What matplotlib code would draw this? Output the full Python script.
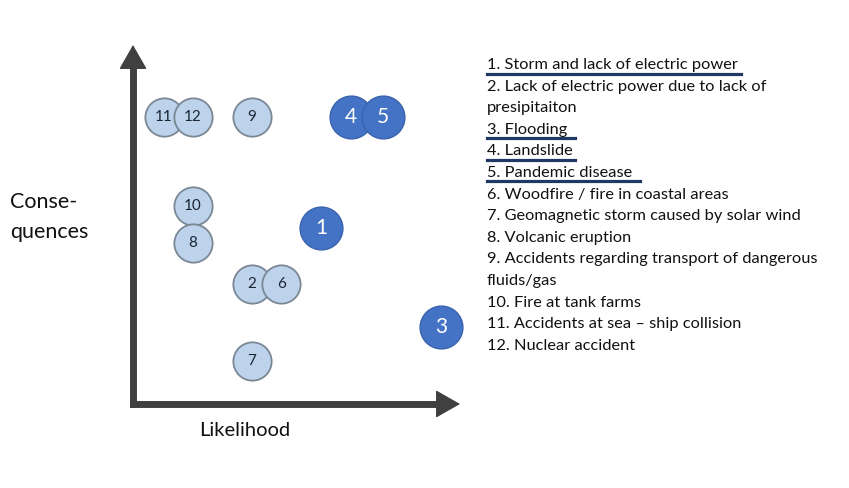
import matplotlib
matplotlib.use("Agg")
import matplotlib.pyplot as plt

# risk items: likelihood (x) and consequence (y) on a 0-10 scale
labels = ["11", "12", "9", "4", "5", "10", "8", "1", "2", "6", "3", "7"]
likelihood = [0.95, 1.83, 3.64, 6.67, 7.65, 1.83, 1.83, 5.75, 3.64, 4.53, 9.42, 3.64]
consequence = [7.99, 7.99, 7.99, 7.99, 7.99, 5.52, 4.49, 4.90, 3.34, 3.34, 2.14, 1.19]
highlighted = ["1", "3", "4", "5"]

legend_items = [
    "1. Storm and lack of electric power",
    "2. Lack of electric power due to lack of\npresipitaiton",
    "3. Flooding",
    "4. Landslide",
    "5. Pandemic disease",
    "6. Woodfire / fire in coastal areas",
    "7. Geomagnetic storm caused by solar wind",
    "8. Volcanic eruption",
    "9. Accidents regarding transport of dangerous\nfluids/gas",
    "10. Fire at tank farms",
    "11. Accidents at sea \u2013 ship collision",
    "12. Nuclear accident",
]

FONT = ["Lato", "DejaVu Sans"]
W, H = 849, 488
fig = plt.figure(figsize=(W / 100, H / 100), dpi=100)
fig.patch.set_facecolor("white")

ax = fig.add_axes([133 / W, (H - 404) / H, 327 / W, 359 / H])
ax.set_xlim(0, 10)
ax.set_ylim(0, 10)
ax.axis("off")

# axis arrows: thick shaft plus a filled head
AX_COL = "#404040"
ax.plot([0, 9.5], [0, 0], color=AX_COL, lw=5, solid_capstyle="projecting", clip_on=False)
ax.plot([0, 0], [0, 9.5], color=AX_COL, lw=5, solid_capstyle="projecting", clip_on=False)
head_kw = dict(arrowstyle="-|>,head_length=1.05,head_width=0.6", color=AX_COL,
               lw=1, shrinkA=0, shrinkB=0, mutation_scale=15)
ax.annotate("", xy=(10, 0), xytext=(9.4, 0), arrowprops=head_kw, annotation_clip=False)
ax.annotate("", xy=(0, 10), xytext=(0, 9.45), arrowprops=head_kw, annotation_clip=False)

for lab, x, y in zip(labels, likelihood, consequence):
    if lab in highlighted:
        ax.scatter(x, y, s=950, color="#4472C4", edgecolor="#3A63AE", lw=1, zorder=3, clip_on=False)
        ax.text(x, y, lab, ha="center", va="center", color="white", fontsize=15,
                family=FONT, zorder=4)
    else:
        ax.scatter(x, y, s=760, color="#BDD3EC", edgecolor="#7A8794", lw=1.3, zorder=3, clip_on=False)
        ax.text(x, y, lab, ha="center", va="center", color="#1B2633", fontsize=11,
                family=FONT, zorder=4)

fig.text(10 / W, 1 - 217 / H, "Conse-\nquences", ha="left", va="center", fontsize=15.5,
         family=FONT, color="#111111", linespacing=1.6)
fig.text(245 / W, 1 - 431 / H, "Likelihood", ha="center", va="center", fontsize=14.5,
         family=FONT, color="#111111")

# legend list on the right, one text per visual line
y = 65
step = 21.6
underline_px = {"1": 741, "3": 575, "4": 575, "5": 640}
for item in legend_items:
    num = item.split(".")[0]
    for line in item.split("\n"):
        fig.text(487 / W, 1 - y / H, line, ha="left", va="center", fontsize=11.8,
                 family=FONT, color="#111111")
        if num in underline_px and line == item:
            fig.add_artist(plt.Line2D([487 / W, underline_px[num] / W],
                                      [1 - (y + 8.5) / H, 1 - (y + 8.5) / H],
                                      color="#1F3864", lw=2.3))
        y += step

fig.savefig("out.png", dpi=100)
